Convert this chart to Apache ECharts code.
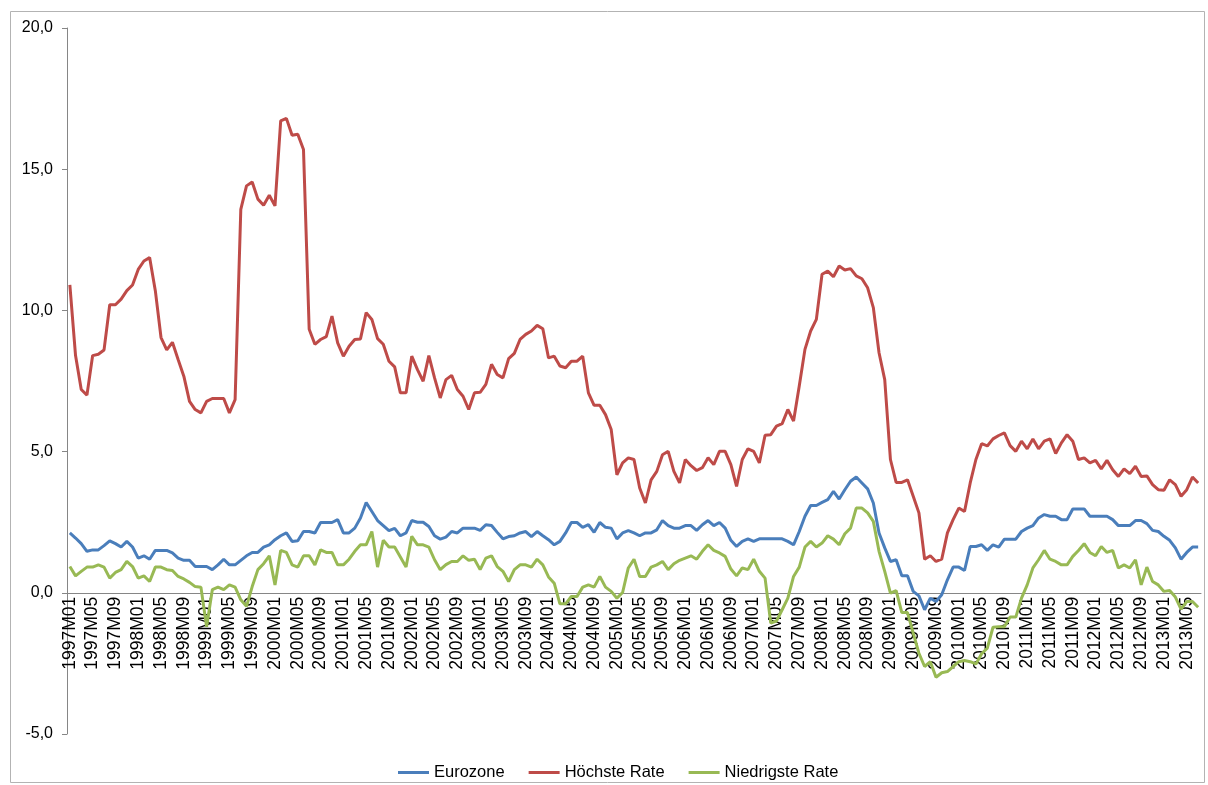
<!DOCTYPE html>
<html>
<head>
<meta charset="utf-8">
<script src="https://cdn.jsdelivr.net/npm/echarts@6/dist/echarts.min.js"></script>
<style>
  html, body { margin: 0; padding: 0; background: #fff; }
  #chart { width: 1208px; height: 785px; }
</style>
</head>
<body>
<div id="chart"></div>
<script>
// monthly categories 1997M01 .. 2013M07
const years = [1997, 1998, 1999, 2000, 2001, 2002, 2003, 2004, 2005, 2006, 2007, 2008, 2009, 2010, 2011, 2012, 2013]
const months = ['01', '02', '03', '04', '05', '06', '07', '08', '09', '10', '11', '12']
const lastMonth = 7
const categories = []
years.forEach(y => {
    months.forEach((m, i) => {
        if (y < 2013 || i < lastMonth) categories.push(y + 'M' + m)
    })
})

const eurozone = [
    2.12, 1.94, 1.74, 1.47, 1.52, 1.52, 1.67, 1.84, 1.74, 1.62, 1.82, 1.62,
    1.23, 1.31, 1.19, 1.5, 1.5, 1.5, 1.41, 1.23, 1.15, 1.15, 0.93, 0.93,
    0.93, 0.82, 0.99, 1.19, 0.99, 0.99, 1.15, 1.31, 1.43, 1.43, 1.62, 1.70,
    1.88, 2.02, 2.12, 1.82, 1.84, 2.17, 2.17, 2.12, 2.49, 2.49, 2.49, 2.59,
    2.12, 2.12, 2.29, 2.65, 3.2, 2.88, 2.56, 2.38, 2.2, 2.28, 2.02, 2.12,
    2.56, 2.5, 2.5, 2.35, 2.02, 1.9, 1.97, 2.17, 2.12, 2.29, 2.29, 2.29,
    2.21, 2.41, 2.38, 2.14, 1.91, 1.99, 2.02, 2.12, 2.17, 1.99, 2.17, 2.02,
    1.88, 1.70, 1.82, 2.12, 2.49, 2.49, 2.32, 2.41, 2.14, 2.49, 2.32, 2.29,
    1.91, 2.12, 2.2, 2.12, 2.02, 2.12, 2.12, 2.23, 2.56, 2.38, 2.29, 2.29,
    2.38, 2.38, 2.21, 2.41, 2.56, 2.38, 2.49, 2.29, 1.86, 1.64, 1.82, 1.91,
    1.82, 1.91, 1.91, 1.91, 1.91, 1.91, 1.82, 1.70, 2.17, 2.71, 3.09, 3.09,
    3.2, 3.3, 3.59, 3.32, 3.65, 3.95, 4.10, 3.89, 3.68, 3.18, 2.12, 1.59,
    1.11, 1.17, 0.6, 0.6, 0.05, -0.11, -0.6, -0.19, -0.31, -0.07, 0.46, 0.91,
    0.91, 0.79, 1.64, 1.64, 1.70, 1.5, 1.70, 1.62, 1.9, 1.9, 1.9, 2.17,
    2.29, 2.38, 2.65, 2.77, 2.71, 2.71, 2.59, 2.59, 2.97, 2.97, 2.97, 2.71,
    2.71, 2.71, 2.71, 2.59, 2.38, 2.38, 2.38, 2.56, 2.56, 2.45, 2.21, 2.17,
    2.0, 1.86, 1.59, 1.19, 1.43, 1.62, 1.62
]

const hoechste = [
    10.9, 8.4, 7.2, 7.0, 8.4, 8.45, 8.6, 10.2, 10.2, 10.4, 10.7, 10.9,
    11.45, 11.75, 11.87, 10.7, 9.04, 8.6, 8.87, 8.26, 7.67, 6.78, 6.49, 6.37,
    6.78, 6.88, 6.88, 6.88, 6.37, 6.84, 13.58, 14.41, 14.55, 13.94, 13.72, 14.08,
    13.7, 16.71, 16.8, 16.2, 16.24, 15.7, 9.33, 8.8, 8.97, 9.07, 9.8, 8.85,
    8.38, 8.73, 8.97, 8.99, 9.92, 9.68, 9.0, 8.8, 8.2, 8.0, 7.08, 7.08,
    8.38, 7.9, 7.49, 8.4, 7.61, 6.9, 7.55, 7.7, 7.2, 6.96, 6.49, 7.08,
    7.1, 7.38, 8.09, 7.73, 7.61, 8.29, 8.48, 8.97, 9.15, 9.27, 9.47, 9.35,
    8.32, 8.38, 8.03, 7.97, 8.2, 8.2, 8.38, 7.08, 6.64, 6.64, 6.31, 5.78,
    4.18, 4.6, 4.78, 4.72, 3.71, 3.18, 4.0, 4.3, 4.89, 5.01, 4.3, 3.89,
    4.72, 4.5, 4.33, 4.43, 4.78, 4.54, 5.01, 5.01, 4.54, 3.77, 4.72, 5.1,
    5.01, 4.6, 5.58, 5.6, 5.9, 5.99, 6.49, 6.08, 7.32, 8.62, 9.27, 9.68,
    11.28, 11.39, 11.19, 11.57, 11.43, 11.48, 11.22, 11.12, 10.8, 10.1, 8.5, 7.55,
    4.72, 3.91, 3.91, 4.0, 3.42, 2.83, 1.19, 1.31, 1.11, 1.19, 2.12, 2.59,
    3.0, 2.88, 3.89, 4.72, 5.28, 5.2, 5.45, 5.57, 5.66, 5.21, 5.01, 5.37,
    5.1, 5.45, 5.1, 5.37, 5.45, 4.93, 5.31, 5.6, 5.37, 4.72, 4.78, 4.6,
    4.69, 4.39, 4.69, 4.36, 4.12, 4.39, 4.22, 4.48, 4.12, 4.14, 3.83, 3.65,
    3.63, 4.0, 3.83, 3.42, 3.65, 4.1, 3.89
]

const niedrigste = [
    0.93, 0.6, 0.76, 0.91, 0.91, 0.99, 0.91, 0.52, 0.72, 0.82, 1.11, 0.93,
    0.52, 0.6, 0.4, 0.91, 0.91, 0.82, 0.79, 0.58, 0.49, 0.37, 0.22, 0.2,
    -1.2, 0.11, 0.2, 0.11, 0.28, 0.2, -0.25, -0.48, 0.22, 0.82, 1.03, 1.31,
    0.28, 1.5, 1.43, 0.99, 0.91, 1.31, 1.31, 0.99, 1.52, 1.43, 1.43, 0.99,
    0.99, 1.19, 1.47, 1.70, 1.70, 2.17, 0.91, 1.86, 1.62, 1.62, 1.27, 0.91,
    2.0, 1.70, 1.70, 1.62, 1.17, 0.82, 1.0, 1.11, 1.11, 1.31, 1.15, 1.19,
    0.82, 1.23, 1.31, 0.93, 0.76, 0.4, 0.82, 0.99, 0.99, 0.91, 1.19, 0.99,
    0.56, 0.34, -0.39, -0.39, -0.13, -0.13, 0.2, 0.28, 0.2, 0.58, 0.2, 0.05,
    -0.19, 0.01, 0.88, 1.19, 0.58, 0.58, 0.91, 0.99, 1.11, 0.82, 1.03, 1.15,
    1.23, 1.31, 1.19, 1.47, 1.70, 1.5, 1.41, 1.29, 0.84, 0.6, 0.88, 0.82,
    1.19, 0.76, 0.52, -1.07, -1.0, -0.6, -0.19, 0.58, 0.91, 1.62, 1.82, 1.62,
    1.76, 2.02, 1.9, 1.70, 2.09, 2.29, 3.0, 3.0, 2.83, 2.53, 1.47, 0.76,
    -0.01, 0.08, -0.7, -0.7, -1.43, -2.14, -2.61, -2.44, -2.99, -2.83, -2.79, -2.61,
    -2.44, -2.4, -2.44, -2.52, -2.16, -1.96, -1.22, -1.2, -1.2, -0.86, -0.86, -0.19,
    0.28, 0.88, 1.17, 1.5, 1.19, 1.11, 0.99, 0.99, 1.29, 1.5, 1.74, 1.43,
    1.31, 1.64, 1.43, 1.5, 0.88, 0.99, 0.88, 1.17, 0.28, 0.91, 0.4, 0.28,
    0.05, 0.08, -0.15, -0.58, -0.31, -0.31, -0.51
]

const seriesNames = ['Eurozone', 'Höchste Rate', 'Niedrigste Rate']
const colors = ['#4A7EBB', '#BE4B48', '#98B954']

const font = '"Liberation Sans", Arial, sans-serif'
const axisGray = '#868686'

// y range of the plot; the category axis sits on the zero line
const yMin = -5
const yMax = 20
const gridTop = 28
const gridBottom = 51
const plotHeight = 785 - gridTop - gridBottom
const zeroOffset = -plotHeight * (0 - yMin) / (yMax - yMin)

const chart = echarts.init(document.getElementById('chart'))

const option = {
    animation: false,
    color: colors,
    textStyle: { fontFamily: font },
    graphic: [
        {
            type: 'rect',
            shape: { x: 10.5, y: 11.5, width: 1194, height: 771 },
            style: { fill: null, stroke: '#b3b3b3', lineWidth: 1 },
            silent: true,
        },
    ],
    legend: {
        data: seriesNames.map(n => ({ name: n, icon: 'rect' })),
        left: 393,
        top: 759,
        itemWidth: 31,
        itemHeight: 3,
        itemGap: 24,
        textStyle: { fontSize: 16.5, color: '#000', fontFamily: font },
    },
    grid: {
        left: 67,
        right: 7,
        top: gridTop,
        bottom: gridBottom,
        containLabel: false,
        outerBoundsMode: 'none',
    },
    xAxis: {
        type: 'category',
        data: categories,
        boundaryGap: true,
        offset: zeroOffset,
        axisLine: { onZero: false, lineStyle: { color: axisGray, width: 1 } },
        axisTick: { interval: 0, length: 5, lineStyle: { color: axisGray } },
        axisLabel: {
            interval: 3,
            rotate: 90,
            margin: 4,
            fontSize: 17.5,
            color: '#000',
            fontFamily: font,
        },
        splitLine: { show: false },
    },
    yAxis: {
        type: 'value',
        min: yMin,
        max: yMax,
        interval: 5,
        axisLine: { show: true, lineStyle: { color: axisGray, width: 1 } },
        axisTick: { show: true, length: 5, lineStyle: { color: axisGray } },
        axisLabel: {
            margin: 14,
            fontSize: 16,
            color: '#000',
            fontFamily: font,
            formatter: v => v.toFixed(1).replace('.', ','),
        },
        splitLine: { show: false },
    },
    series: [
        {
            name: seriesNames[0],
            type: 'line',
            data: eurozone,
            symbol: 'none',
            lineStyle: { width: 3 },
        },
        {
            name: seriesNames[1],
            type: 'line',
            data: hoechste,
            symbol: 'none',
            lineStyle: { width: 3 },
        },
        {
            name: seriesNames[2],
            type: 'line',
            data: niedrigste,
            symbol: 'none',
            lineStyle: { width: 3 },
        },
    ],
}

chart.setOption(option)
</script>
</body>
</html>
